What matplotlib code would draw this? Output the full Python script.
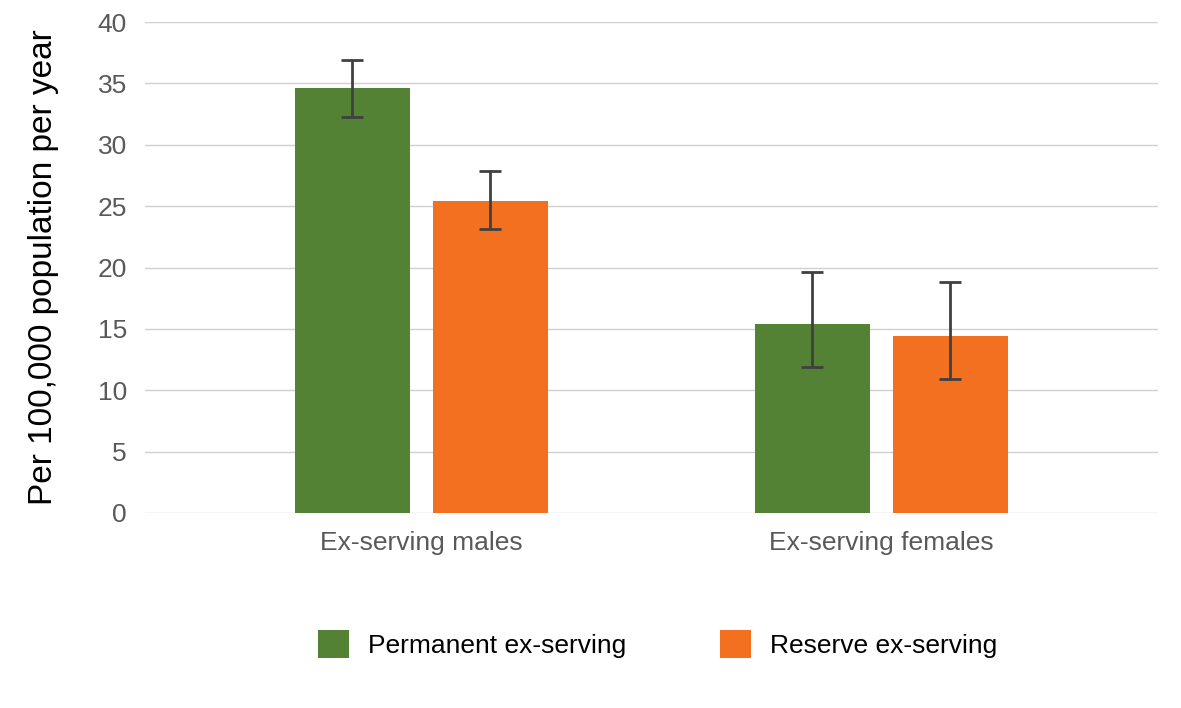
import matplotlib
matplotlib.use("Agg")
import matplotlib.pyplot as plt
import numpy as np
from matplotlib.patches import Patch

plt.rcParams['font.family'] = ['Liberation Sans', 'DejaVu Sans']

categories = ["Ex-serving males", "Ex-serving females"]
series_names = ["Permanent ex-serving", "Reserve ex-serving"]
permanent = [34.6, 15.4]
permanent_lo = [32.3, 11.9]
permanent_hi = [36.9, 19.6]
reserve = [25.4, 14.4]
reserve_lo = [23.1, 10.9]
reserve_hi = [27.9, 18.8]
yticks = [0, 5, 10, 15, 20, 25, 30, 35, 40]

colors = ["#548235", "#F37021"]

fig = plt.figure(figsize=(11.81, 7.08), dpi=100)
ax = fig.add_axes([145/1181, 1-513/708, (1158-145)/1181, (513-22)/708])

x = np.arange(len(categories))
w = 0.25
off = 0.15
for vals, lo, hi, c, sign in [(permanent, permanent_lo, permanent_hi, colors[0], -1),
                              (reserve, reserve_lo, reserve_hi, colors[1], 1)]:
    vals = np.array(vals); lo = np.array(lo); hi = np.array(hi)
    ax.bar(x + sign*off, vals, width=w, color=c, zorder=2)
    ax.errorbar(x + sign*off, vals, yerr=[vals-lo, hi-vals], fmt='none',
                ecolor='#404040', elinewidth=2, capsize=8.2, capthick=2, zorder=3)

ax.set_xlim(-0.6, 1.602)
ax.set_ylim(0, 40)
ax.set_yticks(yticks)
ax.set_yticklabels([str(t) for t in yticks])
ax.set_xticks(x)
ax.set_xticklabels(categories)
ax.yaxis.grid(True, color='#D0D0D0', linewidth=1)
ax.set_axisbelow(True)
for s in ax.spines.values():
    s.set_visible(False)
ax.tick_params(axis='both', length=0, labelsize=19, labelcolor='#595959')
ax.tick_params(axis='y', pad=13)
ax.tick_params(axis='x', pad=13)
ax.set_ylabel("Per 100,000 population per year", fontsize=24, color='black', labelpad=28)

handles = [Patch(facecolor=colors[0]), Patch(facecolor=colors[1])]
fig.legend(handles, series_names, loc='center', bbox_to_anchor=(658/1181, 1-644/708),
           ncol=2, frameon=False, fontsize=19, handlelength=1.15, handleheight=1.3,
           handletextpad=0.75, columnspacing=3.55)

fig.savefig("out.png", dpi=100)
